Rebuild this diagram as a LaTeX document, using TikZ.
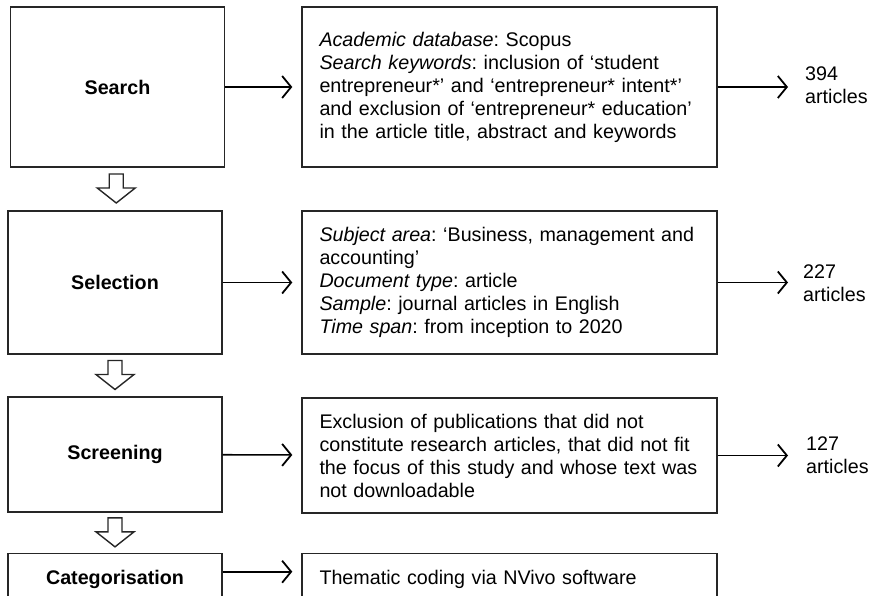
\documentclass[tikz,border=0pt]{standalone}
\usepackage{fontspec}
\setmainfont{Liberation Sans}
\frenchspacing
\usetikzlibrary{arrows.meta,calc,positioning}
\tikzset{
  box/.style={draw=black!85, line width=1.4pt, inner sep=0pt, font=\fontsize{19.7}{23}\selectfont},
  stage/.style={box, font=\fontsize{19.7}{23}\selectfont\bfseries, minimum width=214pt},
  detail/.style={box, text width=380pt, inner xsep=17.5pt, align=left},
  cutbox/.style={anchor=north, inner ysep=4pt, text height=27pt, text depth=40pt},
  tally/.style={font=\fontsize{19.7}{23}\selectfont, align=left, inner sep=0pt},
  flow/.style={-{Straight Barb[length=9pt,width=22pt,line width=1.8pt]}, line width=1.6pt},
  hollow/.style={draw=black!85, line width=1.4pt, fill=white, line join=miter},
}
\begin{document}
\begin{tikzpicture}[x=1pt, y=-1pt]
  \useasboundingbox (0,0) rectangle (872,596);
  \clip (0,0) rectangle (872,596);
  % steps on the left
  \node[stage, minimum height=160pt] (search) at (117.5,87) {Search};
  \node[stage, minimum height=143pt] (select) at (115,282.5) {Selection};
  \node[stage, minimum height=115pt] (screen) at (115,454.5) {Screening};
  \node[stage, cutbox] (categ) at (115,553) {Categorisation};
  % what each step does
  \node[detail, minimum height=160pt] (det1) at (509.5,87) {\textit{Academic database}: Scopus\\
    \textit{Search keywords}: inclusion of ‘student\\
    entrepreneur*’ and ‘entrepreneur* intent*’\\
    and exclusion of ‘entrepreneur* education’\\
    in the article title, abstract and keywords};
  \node[detail, minimum height=143pt] (det2) at (509.5,282.5) {\textit{Subject area}: ‘Business, management and\\
    accounting’\\
    \textit{Document type}: article\\
    \textit{Sample}: journal articles in English\\
    \textit{Time span}: from inception to 2020};
  \node[detail, minimum height=115pt] (det3) at (509.5,455.5) {Exclusion of publications that did not\\
    constitute research articles, that did not fit\\
    the focus of this study and whose text was\\
    not downloadable};
  \node[detail, cutbox] (det4) at (509.5,553) {Thematic coding via NVivo software};
  % counts
  \node[tally, anchor=west] (cnt1) at (805,85) {394\\articles};
  \node[tally, anchor=west] (cnt2) at (803,283) {227\\articles};
  \node[tally, anchor=west] (cnt3) at (806,455) {127\\articles};
  % arrows
  \draw[flow, shorten >=9pt] (search) -- (det1);
  \draw[flow, shorten >=9pt] (select) -- (det2);
  \draw[flow, shorten >=9pt] (screen) -- (det3);
  \draw[flow, shorten >=9pt] ([yshift=13pt]categ.base east) -- ([yshift=13pt]det4.base west);
  \draw[flow, shorten >=17pt] (det1.east) -- (det1.east -| cnt1.west);
  \draw[flow, shorten >=15pt] (det2.east) -- (det2.east -| cnt2.west);
  \draw[flow, shorten >=18pt] (det3.east) -- (det3.east -| cnt3.west);
  \foreach \a/\b in {search/select, select/screen, screen/categ}
    \draw[hollow] ($(\a.south)!.5!(\b.north)$) ++(-7,-15) -- ++(14,0) -- ++(0,14)
      -- ++(12,0) -- ++(-19,15) -- ++(-19,-15) -- ++(12,0) -- cycle;
\end{tikzpicture}
\end{document}
